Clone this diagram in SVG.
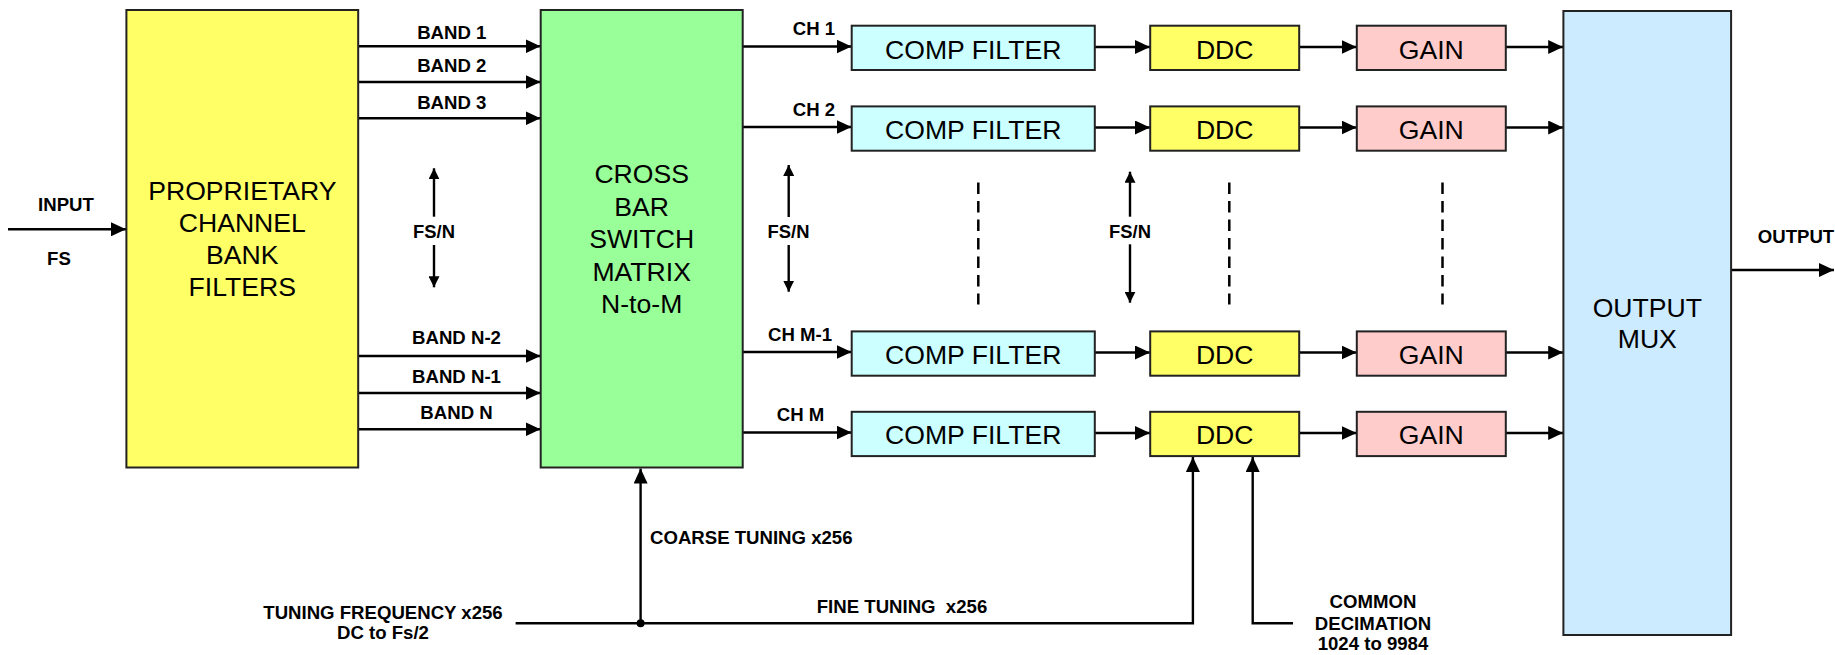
<svg xmlns="http://www.w3.org/2000/svg" width="1835" height="655" viewBox="0 0 1835 655">
<defs>
<marker id="ah" markerUnits="userSpaceOnUse" markerWidth="15" markerHeight="14" refX="15" refY="7" orient="auto"><path d="M0,0 L15,7 L0,14 z" fill="#000"/></marker>
<marker id="ahs" markerUnits="userSpaceOnUse" markerWidth="11" markerHeight="11" refX="11" refY="5.5" orient="auto"><path d="M0,0 L11,5.5 L0,11 z" fill="#000"/></marker>
<style>
.box{stroke:#222;stroke-width:2}
.yel{fill:#FFFF66}
.grn{fill:#99FF99}
.cyn{fill:#CCFFFF}
.pnk{fill:#FFCCCC}
.blu{fill:#CCEBFF}
.big{font-family:"Liberation Sans",Arial,sans-serif;font-size:26.6px;text-anchor:middle;fill:#000}
.lbl{font-family:"Liberation Sans",Arial,sans-serif;font-size:18.6px;font-weight:bold;text-anchor:middle;fill:#000}
.fs{font-family:"Liberation Sans",Arial,sans-serif;font-size:18.4px;font-weight:bold;text-anchor:middle;fill:#000}
.ln{stroke:#000;stroke-width:2.4;fill:none}
.ar{marker-end:url(#ah)}
.as{marker-end:url(#ahs)}
.dash{stroke:#000;stroke-width:2.5;stroke-dasharray:11.5 7;fill:none}
</style>
</defs>
<rect width="1835" height="655" fill="#fff"/>

<g id="connectors">
  <path class="ln ar" d="M8,229.3 H126"/>
  <path class="ln ar" d="M358,46.3 H540.5"/>
  <path class="ln ar" d="M358,82 H540.5"/>
  <path class="ln ar" d="M358,118.3 H540.5"/>
  <path class="ln ar" d="M358,356 H540.5"/>
  <path class="ln ar" d="M358,393 H540.5"/>
  <path class="ln ar" d="M358,429.3 H540.5"/>

  <path class="ln ar" d="M742.7,46.5 H851.5"/>
  <path class="ln ar" d="M742.7,127 H851.5"/>
  <path class="ln ar" d="M742.7,352 H851.5"/>
  <path class="ln ar" d="M742.7,432.5 H851.5"/>

  <path class="ln ar" d="M1094.8,47 H1150"/>
  <path class="ln ar" d="M1094.8,127.5 H1150"/>
  <path class="ln ar" d="M1094.8,352.5 H1150"/>
  <path class="ln ar" d="M1094.8,433 H1150"/>

  <path class="ln ar" d="M1299.2,47 H1356.6"/>
  <path class="ln ar" d="M1299.2,127.5 H1356.6"/>
  <path class="ln ar" d="M1299.2,352.5 H1356.6"/>
  <path class="ln ar" d="M1299.2,433 H1356.6"/>

  <path class="ln ar" d="M1505.8,47 H1563.2"/>
  <path class="ln ar" d="M1505.8,127.5 H1563.2"/>
  <path class="ln ar" d="M1505.8,352.5 H1563.2"/>
  <path class="ln ar" d="M1505.8,433 H1563.2"/>

  <path class="ln ar" d="M1731,270 H1834"/>

  <path class="ln ar" d="M640.6,623.3 V468.5"/>
  <path class="ln ar" d="M515.6,623.3 H1192.9 V457"/>
  <path class="ln ar" d="M1293,623.3 H1252.7 V457"/>
  <circle cx="640.6" cy="623.3" r="4" fill="#000"/>

  <path class="ln as" d="M434,216.7 V168.3"/>
  <path class="ln as" d="M434,245 V287.3"/>
  <path class="ln as" d="M788.7,217 V165"/>
  <path class="ln as" d="M788.7,245 V291.7"/>
  <path class="ln as" d="M1130,216.7 V171.7"/>
  <path class="ln as" d="M1130,244.3 V302.7"/>

  <path class="dash" d="M978.3,182.5 V304.5"/>
  <path class="dash" d="M1229.3,182.5 V304.5"/>
  <path class="dash" d="M1442.5,182.5 V304.5"/>
</g>

<g id="channel-bank">
  <rect class="box yel" x="126.4" y="10" width="231.8" height="457.5"/>
  <text class="big" x="242.3" y="200">PROPRIETARY</text>
  <text class="big" x="242.3" y="232.3">CHANNEL</text>
  <text class="big" x="242.3" y="264.3">BANK</text>
  <text class="big" x="242.3" y="296">FILTERS</text>
</g>

<g id="crossbar">
  <rect class="box grn" x="540.7" y="10" width="202" height="457.5"/>
  <text class="big" x="641.7" y="183">CROSS</text>
  <text class="big" x="641.7" y="215.5">BAR</text>
  <text class="big" x="641.7" y="248">SWITCH</text>
  <text class="big" x="641.7" y="280.5">MATRIX</text>
  <text class="big" x="641.7" y="312.7">N-to-M</text>
</g>

<g id="comp1"><rect class="box cyn" x="851.7" y="25.7" width="243.1" height="44.3"/><text class="big" x="973.2" y="58.5">COMP FILTER</text></g>
<g id="comp2"><rect class="box cyn" x="851.7" y="106.4" width="243.1" height="44.3"/><text class="big" x="973.2" y="139">COMP FILTER</text></g>
<g id="comp3"><rect class="box cyn" x="851.7" y="331.4" width="243.1" height="44.3"/><text class="big" x="973.2" y="364">COMP FILTER</text></g>
<g id="comp4"><rect class="box cyn" x="851.7" y="411.8" width="243.1" height="44.3"/><text class="big" x="973.2" y="444.3">COMP FILTER</text></g>

<g id="ddc1"><rect class="box yel" x="1150.2" y="25.7" width="149" height="44.3"/><text class="big" x="1224.7" y="58.5">DDC</text></g>
<g id="ddc2"><rect class="box yel" x="1150.2" y="106.4" width="149" height="44.3"/><text class="big" x="1224.7" y="139">DDC</text></g>
<g id="ddc3"><rect class="box yel" x="1150.2" y="331.4" width="149" height="44.3"/><text class="big" x="1224.7" y="364">DDC</text></g>
<g id="ddc4"><rect class="box yel" x="1150.2" y="411.8" width="149" height="44.3"/><text class="big" x="1224.7" y="444.3">DDC</text></g>

<g id="gain1"><rect class="box pnk" x="1356.8" y="25.7" width="149" height="44.3"/><text class="big" x="1431.3" y="58.5">GAIN</text></g>
<g id="gain2"><rect class="box pnk" x="1356.8" y="106.4" width="149" height="44.3"/><text class="big" x="1431.3" y="139">GAIN</text></g>
<g id="gain3"><rect class="box pnk" x="1356.8" y="331.4" width="149" height="44.3"/><text class="big" x="1431.3" y="364">GAIN</text></g>
<g id="gain4"><rect class="box pnk" x="1356.8" y="411.8" width="149" height="44.3"/><text class="big" x="1431.3" y="444.3">GAIN</text></g>

<g id="output-mux">
  <rect class="box blu" x="1563.4" y="11" width="167.7" height="624"/>
  <text class="big" x="1647.3" y="316.7">OUTPUT</text>
  <text class="big" x="1647.3" y="348.3">MUX</text>
</g>

<g id="labels">
  <text class="lbl" x="66" y="211">INPUT</text>
  <text class="lbl" x="59" y="265">FS</text>
  <text class="lbl" x="451.8" y="39.3">BAND 1</text>
  <text class="lbl" x="451.8" y="72">BAND 2</text>
  <text class="lbl" x="451.8" y="109.3">BAND 3</text>
  <text class="lbl" x="456.5" y="344">BAND N-2</text>
  <text class="lbl" x="456.5" y="383.3">BAND N-1</text>
  <text class="lbl" x="456.5" y="419">BAND N</text>
  <text class="fs" x="434" y="238.3">FS/N</text>
  <text class="fs" x="788.5" y="237.5">FS/N</text>
  <text class="fs" x="1130" y="238.3">FS/N</text>
  <text class="lbl" x="814" y="35">CH 1</text>
  <text class="lbl" x="814" y="116">CH 2</text>
  <text class="lbl" x="800" y="340.7">CH M-1</text>
  <text class="lbl" x="800.5" y="420.7">CH M</text>
  <text class="lbl" x="1796" y="242.7">OUTPUT</text>
  <text class="lbl" x="650" y="544" style="text-anchor:start">COARSE TUNING x256</text>
  <text class="lbl" x="383" y="619">TUNING FREQUENCY x256</text>
  <text class="lbl" x="383" y="639">DC to Fs/2</text>
  <text class="lbl" x="902" y="612.7" xml:space="preserve">FINE TUNING  x256</text>
  <text class="lbl" x="1373" y="608.3">COMMON</text>
  <text class="lbl" x="1373" y="630">DECIMATION</text>
  <text class="lbl" x="1373" y="650">1024 to 9984</text>
</g>
</svg>
